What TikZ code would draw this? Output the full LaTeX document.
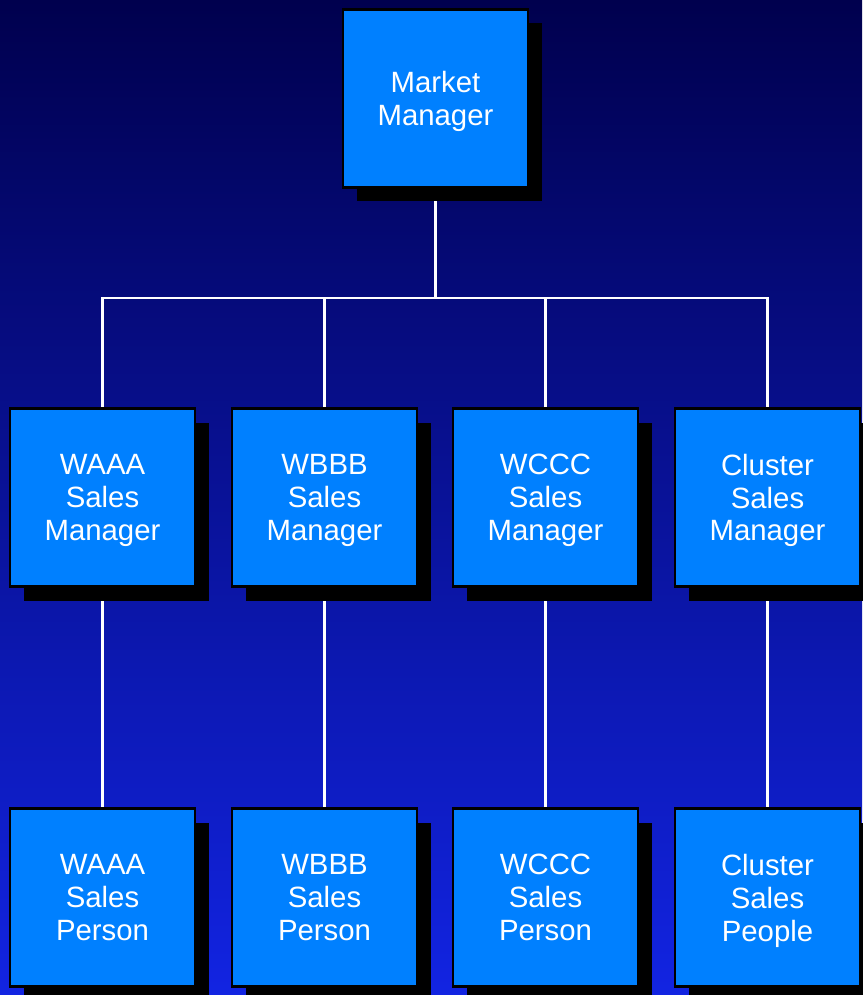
\documentclass[tikz,border=0pt]{standalone}
\usepackage{fontspec}
\setmainfont{Liberation Sans}
\usetikzlibrary{positioning,shadows,backgrounds}
\definecolor{boxblue}{RGB}{0,128,255}
\definecolor{bgtop}{RGB}{0,0,78}
\definecolor{bgbottom}{RGB}{18,36,226}
\tikzset{box/.style = {rectangle, draw=black, line width=1.6pt, fill=boxblue,
    minimum width=3.7cm, minimum height=3.56cm, inner sep=0pt,
    align=center, text=white, text depth=-0.15cm, font=\fontsize{16.7}{18.7}\selectfont,
    general shadow={fill=black, shadow xshift=0.28cm, shadow yshift=-0.28cm}},
  link/.style = {draw=white, line width=1.5pt}}

\begin{document}
\begin{tikzpicture}
            \useasboundingbox (0,0) rectangle (17.24,-19.9);
            \begin{pgfonlayer}{background}
                \shade[top color=bgtop, bottom color=bgbottom] (0,0) rectangle (17.24,-19.9);
            \end{pgfonlayer}

            \node [box] (mm) at ( 8.71,  -1.97) {Market\\Manager};

            \node [box] (asm) at ( 2.05,  -9.95) {WAAA\\Sales\\Manager};
            \node [box] (bsm) at ( 6.49,  -9.95) {WBBB\\Sales\\Manager};
            \node [box] (csm) at (10.91,  -9.95) {WCCC\\Sales\\Manager};
            \node [box] (xsm) at (15.35,  -9.95) {Cluster\\Sales\\Manager};

            \node [box] (asp) at ( 2.05, -17.95) {WAAA\\Sales\\Person};
            \node [box] (bsp) at ( 6.49, -17.95) {WBBB\\Sales\\Person};
            \node [box] (csp) at (10.91, -17.95) {WCCC\\Sales\\Person};
            \node [box] (xsp) at (15.35, -17.95) {Cluster\\Sales\\People};

            \coordinate (bar) at (8.71, -5.96);

            \begin{pgfonlayer}{background}
                \draw [link] (mm) -- (bar);
                \draw [link] (bar) -| (asm);
                \draw [link] (bar) -| (bsm);
                \draw [link] (bar) -| (csm);
                \draw [link] (bar) -| (xsm);
                \draw [link] (asm) -- (asp);
                \draw [link] (bsm) -- (bsp);
                \draw [link] (csm) -- (csp);
                \draw [link] (xsm) -- (xsp);
            \end{pgfonlayer}
        \end{tikzpicture}
\end{document}
